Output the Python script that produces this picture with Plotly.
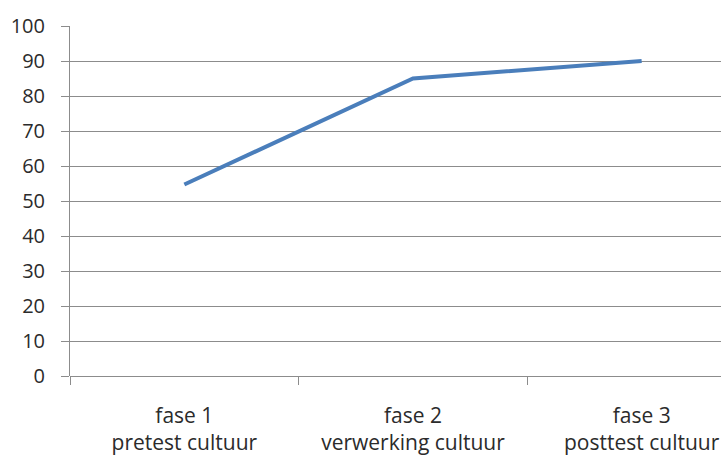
import plotly.graph_objects as go

# Scores per phase
fases = ["fase 1<br>pretest cultuur", "fase 2<br>verwerking cultuur", "fase 3<br>posttest cultuur"]
scores = [54.7, 85, 90]
y_ticks = list(range(0, 101, 10))

grid_col = "#8c8c8c"
text_col = "#2b2b2b"
font_family = "'Open Sans', Lato, sans-serif"

fig = go.Figure(
    go.Scatter(
        x=fases,
        y=scores,
        mode="lines",
        line=dict(color="#4a7ebb", width=4),
        hoverinfo="skip",
    )
)

fig.update_layout(
    width=721,
    height=455,
    margin=dict(l=70, r=0, t=26, b=79),
    paper_bgcolor="white",
    plot_bgcolor="white",
    showlegend=False,
    font=dict(family=font_family, size=20, color=text_col),
)

fig.update_xaxes(
    type="category",
    range=[-0.5, 2.347],
    tickson="boundaries",
    ticks="outside",
    ticklen=8,
    tickcolor=grid_col,
    showgrid=False,
    showline=False,
    zeroline=False,
    automargin=False,
    ticklabelstandoff=25,
    tickfont=dict(size=21, color=text_col),
)

fig.update_yaxes(
    range=[0, 100],
    tickvals=y_ticks,
    ticks="outside",
    ticklen=8,
    tickcolor=grid_col,
    showgrid=True,
    gridcolor=grid_col,
    gridwidth=1,
    showline=True,
    linecolor=grid_col,
    linewidth=1,
    zeroline=True,
    zerolinecolor=grid_col,
    zerolinewidth=1,
    automargin=False,
    ticklabelstandoff=12,
    tickfont=dict(size=20, color=text_col),
)

fig.write_html("out.html")
